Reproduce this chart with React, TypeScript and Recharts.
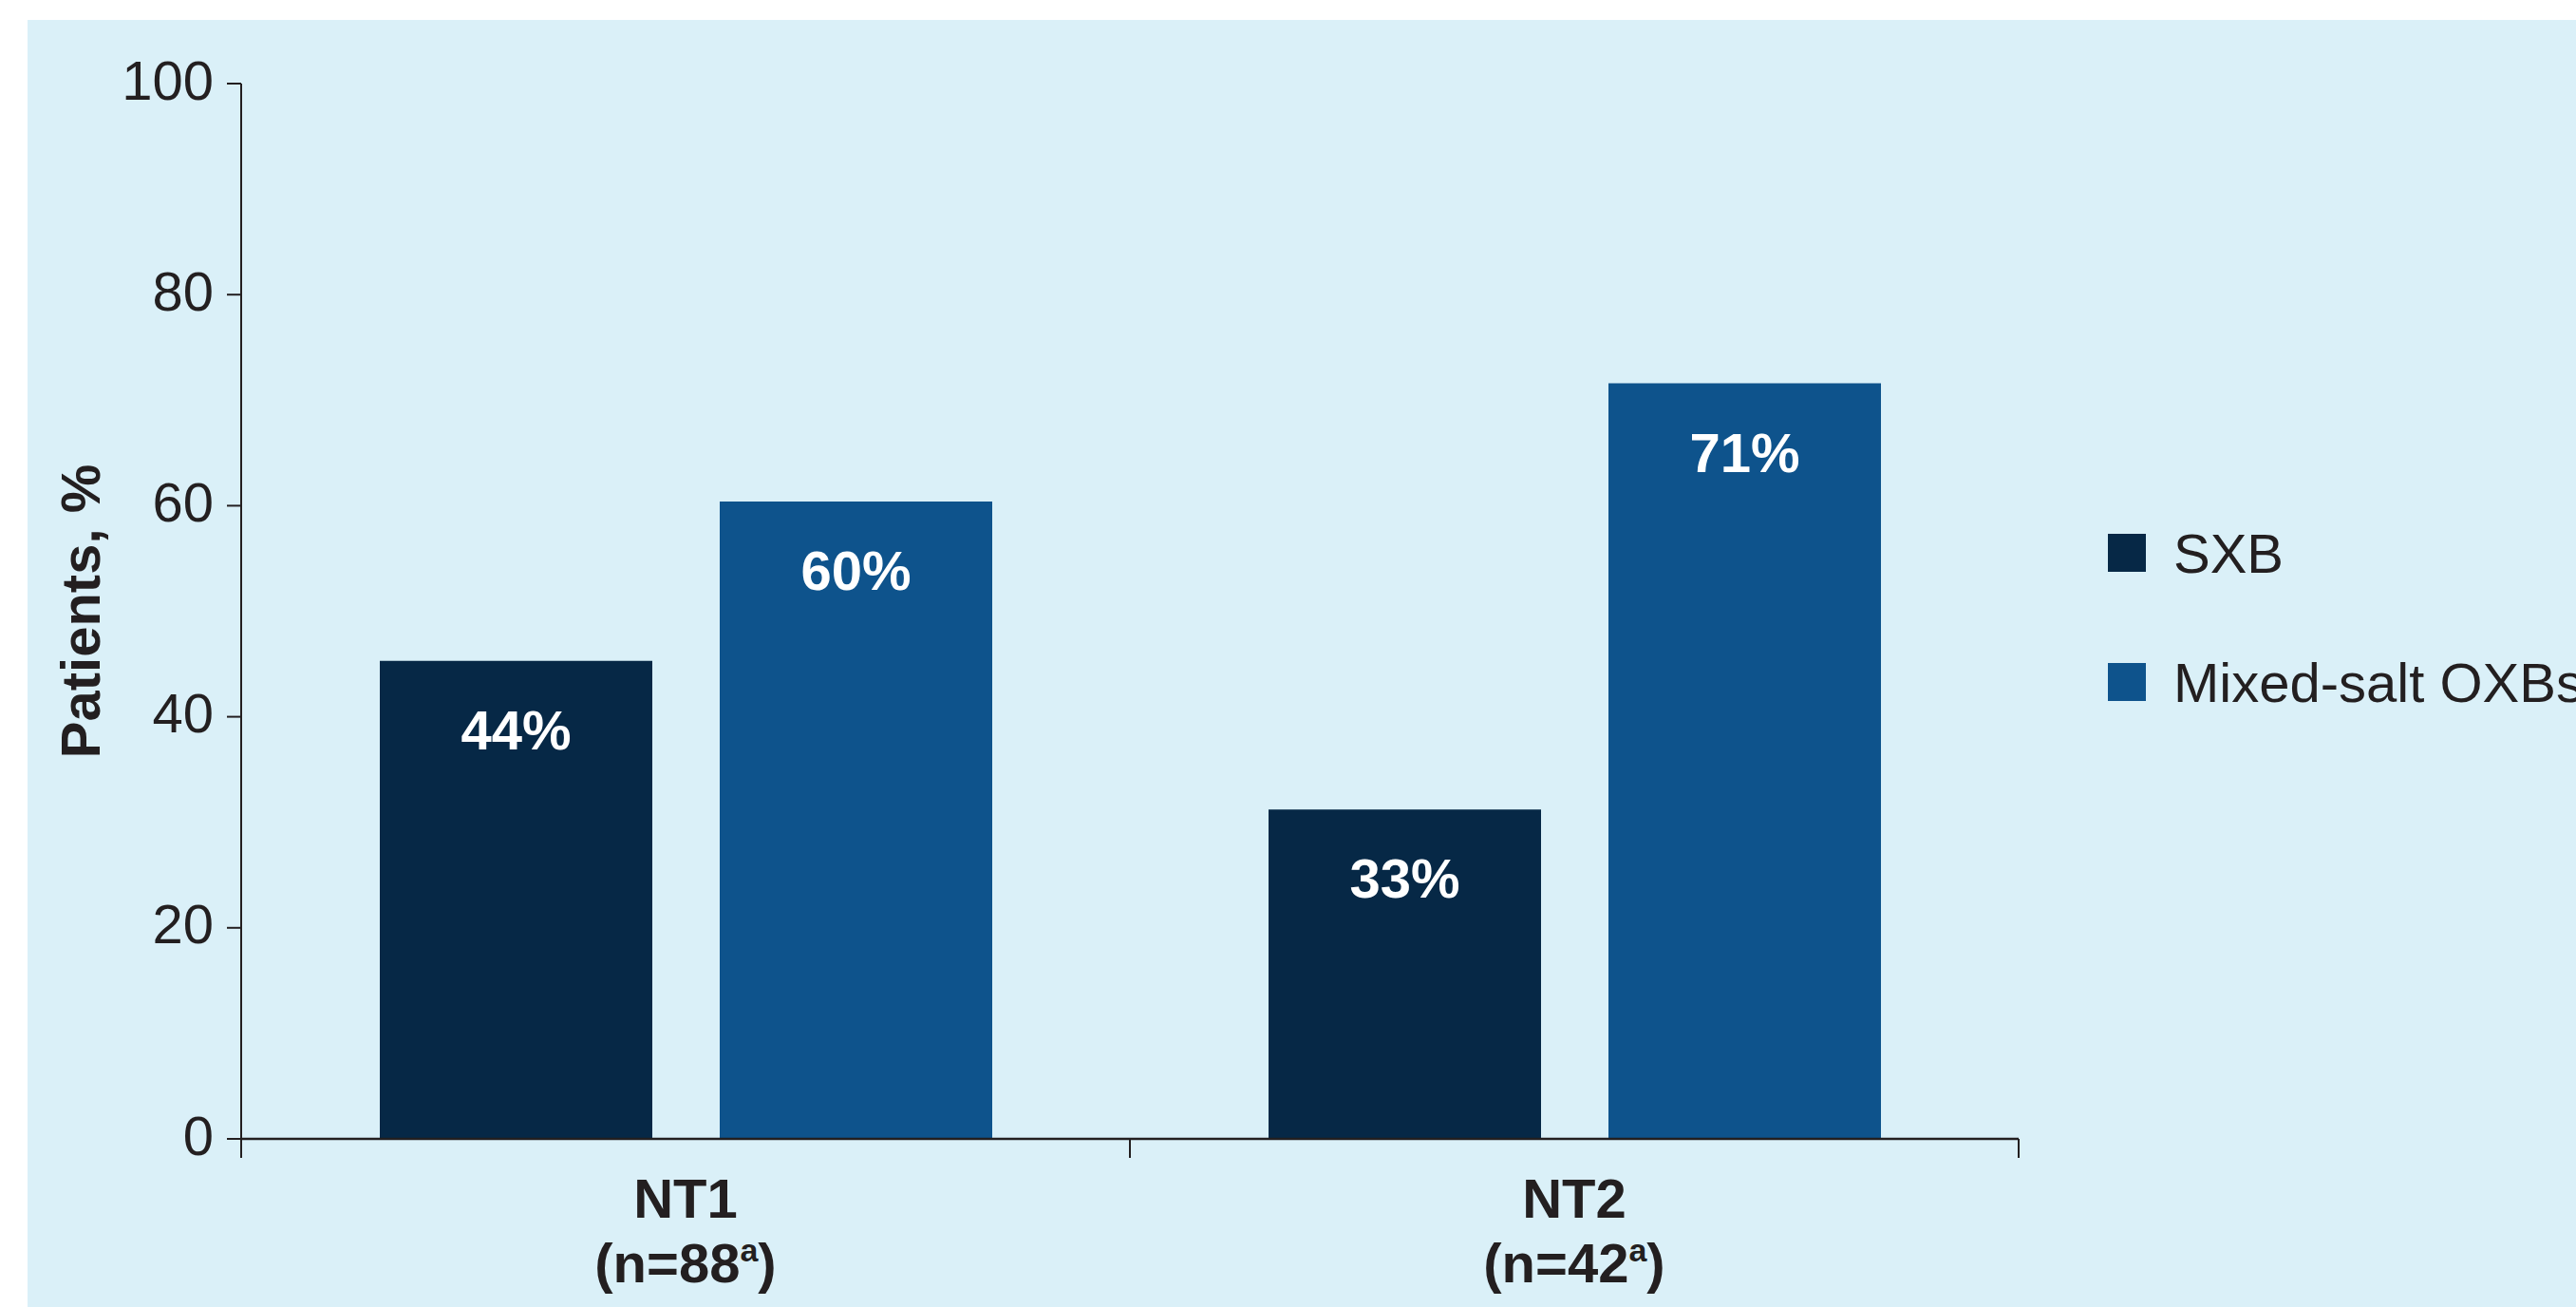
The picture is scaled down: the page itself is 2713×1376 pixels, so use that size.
import React from "react";
import { BarChart, Bar, XAxis, YAxis, Legend, LabelList } from "recharts";

// values
const categories = ["NT1", "NT2"];
const sampleSizes = ["88", "42"];
const seriesNames = ["SXB", "Mixed-salt OXBs"];
const sxbValues = [45.3, 31.2];
const mixedValues = [60.4, 71.6];
const sxbLabels = ["44%", "33%"];
const mixedLabels = ["60%", "71%"];
const yTicks = [0, 20, 40, 60, 80, 100];

const W = 2713;
const H = 1376;
const MARGIN = { top: 88, right: 587, bottom: 0, left: 0 };
const Y_AXIS_W = 254;
const X_AXIS_H = 177;
const BAND = (W - MARGIN.left - Y_AXIS_W - MARGIN.right) / categories.length;

const INK = "#231F20";
const SXB_COLOR = "#062846";
const MIXED_COLOR = "#0E538C";
const PANEL = "#DAF0F8";
const FONT = "'Liberation Sans', Arial, Helvetica, sans-serif";

const data = categories.map((name, i) => ({
  name,
  n: sampleSizes[i],
  sxb: sxbValues[i],
  mixed: mixedValues[i],
  sxbLabel: sxbLabels[i],
  mixedLabel: mixedLabels[i],
}));

const CategoryTick = (props: any) => {
  const { x, y, payload, index } = props;
  const row = data[index] || data.find((d) => d.name === payload.value);
  return (
    <g>
      <line x1={x - BAND / 2} x2={x - BAND / 2} y1={y} y2={y + 20} stroke={INK} strokeWidth={2} />
      <line x1={x + BAND / 2} x2={x + BAND / 2} y1={y} y2={y + 20} stroke={INK} strokeWidth={2} />
      <text x={x} y={y + 83} textAnchor="middle" fontSize={58} fontWeight="bold" fill={INK}>
        {payload.value}
      </text>
      <text x={x} y={y + 151} textAnchor="middle" fontSize={58} fontWeight="bold" fill={INK}>
        <tspan>(n={row ? row.n : ""}</tspan>
        <tspan dy={-22} fontSize={34}>a</tspan>
        <tspan dy={22}>)</tspan>
      </text>
    </g>
  );
};

const YTitle = (props: any) => {
  const vb = props.viewBox || { x: 0, y: 0, height: 0 };
  const cx = vb.x + 105;
  const cy = vb.y + vb.height / 2;
  return (
    <text
      x={cx}
      y={cy}
      textAnchor="middle"
      fontSize={58}
      fontWeight="bold"
      fill={INK}
      transform={`rotate(-90, ${cx}, ${cy})`}
    >
      Patients, %
    </text>
  );
};

const barLabel = (props: any) => {
  const { x, y, width, value } = props;
  return (
    <text x={x + width / 2} y={y + 93} textAnchor="middle" fontSize={58} fontWeight="bold" fill="#ffffff">
      {value}
    </text>
  );
};

const LegendBox = (props: any) => {
  const items = [...(props.payload || [])].sort(
    (a: any, b: any) => seriesNames.indexOf(a.value) - seriesNames.indexOf(b.value)
  );
  return (
    <svg width={513} height={230} style={{ display: "block" }}>
      {items.map((item: any, i: number) => (
        <g key={item.value}>
          <rect x={20} y={22 + i * 136} width={40} height={40} fill={item.color} />
          <text x={89} y={63 + i * 136} fontSize={58} fill={INK} fontFamily={FONT}>
            {item.value}
          </text>
        </g>
      ))}
    </svg>
  );
};

export default function App() {
  return (
    <div
      style={{
        position: "absolute",
        left: 0,
        top: 0,
        width: W,
        height: H,
        overflow: "hidden",
        background: "#ffffff",
        fontFamily: FONT,
      }}
    >
      <div style={{ position: "absolute", left: 29, top: 21, right: 0, bottom: 0, background: PANEL }} />
      <div style={{ position: "absolute", left: 0, top: 0 }}>
        <BarChart width={W} height={H} data={data} margin={MARGIN} barSize={287} barGap={71}>
          <XAxis
            dataKey="name"
            height={X_AXIS_H}
            interval={0}
            tickLine={false}
            tickSize={0}
            tickMargin={0}
            axisLine={{ stroke: INK, strokeWidth: 2.5 }}
            tick={<CategoryTick />}
          />
          <YAxis
            type="number"
            domain={[0, 100]}
            ticks={yTicks}
            width={Y_AXIS_W}
            tickSize={15}
            tickMargin={14}
            axisLine={{ stroke: INK, strokeWidth: 2 }}
            tickLine={{ stroke: INK, strokeWidth: 2 }}
            tick={{ fontSize: 58, fill: INK, dy: -4 }}
            label={<YTitle />}
          />
          <Legend
            layout="vertical"
            align="center"
            verticalAlign="middle"
            wrapperStyle={{ left: 2200, top: 540, width: 513, height: 230 }}
            content={<LegendBox />}
          />
          <Bar dataKey="sxb" name={seriesNames[0]} fill={SXB_COLOR} isAnimationActive={false}>
            <LabelList dataKey="sxbLabel" content={barLabel} />
          </Bar>
          <Bar dataKey="mixed" name={seriesNames[1]} fill={MIXED_COLOR} isAnimationActive={false}>
            <LabelList dataKey="mixedLabel" content={barLabel} />
          </Bar>
        </BarChart>
      </div>
    </div>
  );
}
